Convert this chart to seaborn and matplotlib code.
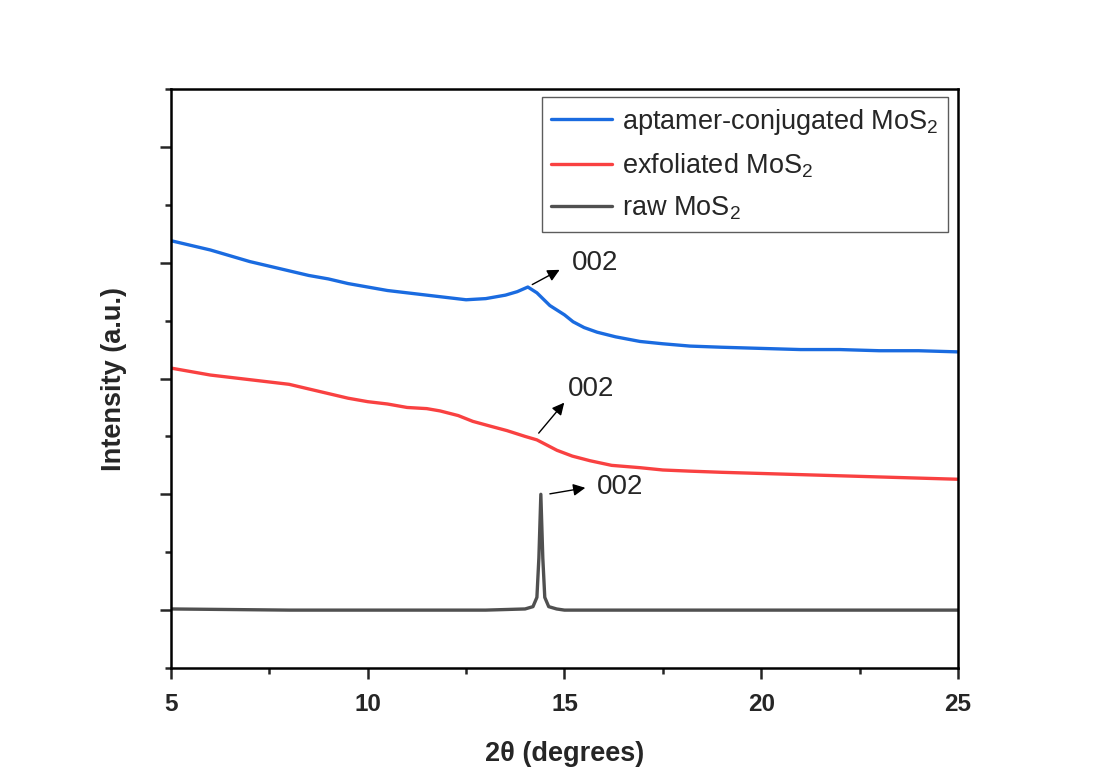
import matplotlib
matplotlib.use('Agg')
import matplotlib.pyplot as plt
from matplotlib.ticker import MultipleLocator
import numpy as np
import pandas as pd
import seaborn as sns

# values (2theta in degrees, intensity in arbitrary offset units)
blue_x = [5, 5.5, 6, 6.5, 7, 7.5, 8, 8.5, 9, 9.5, 10, 10.5, 11, 11.5, 12, 12.5, 13, 13.5,
          13.8, 14.07, 14.3, 14.63, 15, 15.22, 15.5, 15.83, 16.3, 16.92, 17.5, 18.19, 19, 20,
          21, 22, 23, 24, 25]
blue_y = [3.19, 3.15, 3.11, 3.06, 3.01, 2.97, 2.93, 2.89, 2.86, 2.82, 2.79, 2.76, 2.74, 2.72,
          2.70, 2.68, 2.69, 2.72, 2.75, 2.79, 2.74, 2.63, 2.55, 2.49, 2.44, 2.40, 2.36, 2.32,
          2.30, 2.28, 2.27, 2.26, 2.25, 2.25, 2.24, 2.24, 2.23]

red_x = [5, 5.5, 6, 6.5, 7, 7.5, 8, 8.5, 9, 9.5, 10, 10.5, 11, 11.5, 11.84, 12.3, 12.67, 13.1,
         13.54, 14.0, 14.30, 14.81, 15.2, 15.65, 16.2, 16.92, 17.5, 18.19, 19, 20, 21, 22, 23,
         24, 25]
red_y = [2.09, 2.06, 2.03, 2.01, 1.99, 1.97, 1.95, 1.91, 1.87, 1.83, 1.80, 1.78, 1.75, 1.74,
         1.72, 1.68, 1.63, 1.59, 1.55, 1.50, 1.47, 1.38, 1.33, 1.29, 1.25, 1.23, 1.21, 1.20,
         1.19, 1.18, 1.17, 1.16, 1.15, 1.14, 1.13]

raw_x = [5, 8, 11, 13, 14.0, 14.2, 14.3, 14.35, 14.4, 14.45, 14.5, 14.6, 14.8, 15, 18, 21, 25]
raw_y = [0.01, 0.0, 0.0, 0.0, 0.01, 0.03, 0.11, 0.45, 1.0, 0.45, 0.11, 0.03, 0.01, 0.0,
         0.0, 0.0, 0.0]

labels = ['aptamer-conjugated MoS$_2$', 'exfoliated MoS$_2$', 'raw MoS$_2$']
colors = ['#1a6be0', '#f94141', '#505050']

# (tail x, tail y, head x, head y, text x, text y) for the 002 peak markers
ann_blue = (14.12, 2.80, 14.94, 2.95, 15.19, 3.00)
ann_red = (14.30, 1.51, 15.04, 1.81, 15.09, 1.91)
ann_raw = (14.56, 1.00, 15.60, 1.06, 15.83, 1.06)

sns.set_style('ticks')
plt.rcParams['font.family'] = ['Liberation Sans', 'DejaVu Sans']
plt.rcParams['mathtext.fontset'] = 'custom'
plt.rcParams['mathtext.rm'] = 'Liberation Sans'
plt.rcParams['mathtext.it'] = 'Liberation Sans'

fig = plt.figure(figsize=(10.99, 7.72), dpi=100)
ax = fig.add_axes([0.1556, 0.1347, 0.716, 0.75])

series = [(blue_x, blue_y), (red_x, red_y), (raw_x, raw_y)]
for (xs, ys), lab, col in zip(series, labels, colors):
    df = pd.DataFrame({'x': xs, 'y': ys})
    sns.lineplot(data=df, x='x', y='y', ax=ax, color=col, linewidth=2.4, label=lab)

for tx, ty, hx, hy, lx, ly in [ann_blue, ann_red, ann_raw]:
    ax.annotate('', xy=(hx, hy), xytext=(tx, ty),
                arrowprops=dict(arrowstyle='-|>', color='black', lw=1.0, mutation_scale=18))
    ax.text(lx, ly, '002', fontsize=20, va='center', ha='left')

ax.set_xlim(5, 25)
ax.set_ylim(-0.5, 4.5)
ax.xaxis.set_major_locator(MultipleLocator(5))
ax.xaxis.set_minor_locator(MultipleLocator(2.5))
ax.yaxis.set_major_locator(MultipleLocator(1))
ax.yaxis.set_minor_locator(MultipleLocator(0.5))
ax.set_yticklabels([])
ax.tick_params(which='major', direction='out', length=8, width=1.8, labelsize=17.5, pad=10)
ax.tick_params(which='minor', direction='out', length=4.5, width=1.8)
for lab in ax.get_xticklabels():
    lab.set_fontweight('bold')
for sp in ax.spines.values():
    sp.set_linewidth(1.8)
    sp.set_color('black')

ax.set_xlabel('2θ (degrees)', fontsize=19.5, fontweight='bold', labelpad=18)
ax.set_ylabel('Intensity (a.u.)', fontsize=19.5, fontweight='bold', labelpad=14)

leg = ax.legend(loc='upper right', fontsize=19.5, frameon=True, fancybox=False,
                edgecolor='#333333', handlelength=2.25, borderpad=0.35,
                labelspacing=0.55, handletextpad=0.35, borderaxespad=0,
                bbox_to_anchor=(0.987, 0.986))
leg.get_frame().set_linewidth(1.0)

fig.savefig('out.png', dpi=100)
